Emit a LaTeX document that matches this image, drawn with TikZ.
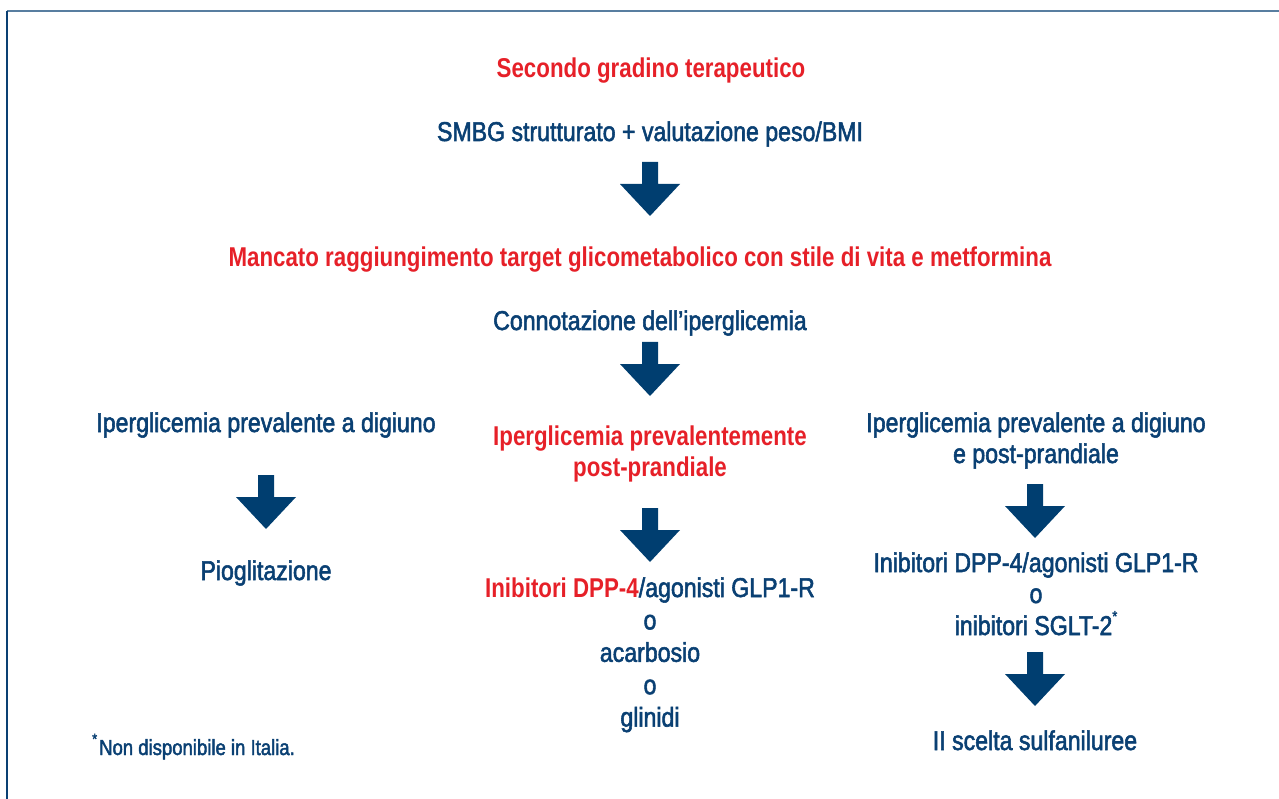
\documentclass[tikz,border=0pt]{standalone}
\usepackage{fontspec}
\newfontfamily\plainfont{Liberation Sans}[FakeStretch=0.85,FakeBold=2]
\newfontfamily\strongfont{Liberation Sans Bold}[FakeStretch=0.82]
\definecolor{navy}{RGB}{10,64,115}
\definecolor{alert}{RGB}{230,32,40}
\definecolor{arrowblue}{RGB}{0,62,112}
\definecolor{framegray}{RGB}{88,126,160}
\newcommand{\starmark}{\raisebox{0.5em}{\fontsize{15}{15}\selectfont *}}

\tikzset{
	txt/.style={anchor=base, inner sep=0pt, text=navy, font=\plainfont\fontsize{27.2}{32}\selectfont},
	hot/.style={txt, text=alert, font=\strongfont\fontsize{27.2}{32}\selectfont},
	note/.style={anchor=base west, inner sep=0pt, text=navy, font=\plainfont\fontsize{21.8}{26}\selectfont},
	downarrow/.pic={
		\fill[arrowblue] (-8,0) -- (8,0) -- (8,22) -- (30,22) -- (0,54) -- (-30,22) -- (-8,22) -- cycle;
	}
}

\begin{document}
\begin{tikzpicture}[x=1pt,y=-1pt]
	\useasboundingbox (0,0) rectangle (1279,799);

	% frame
	\draw[framegray, line width=2pt] (7,11) -- (1279,11);
	\draw[navy, line width=2pt] (7,11) -- (7,799);

	% top
	\node[hot] (title) at (651,78) {Secondo gradino terapeutico};
	\node[txt] (smbg) at (650,141) {SMBG strutturato + valutazione peso/BMI};
	\pic at (650,162) {downarrow};
	\node[hot] (fail) at (640,267) {Mancato raggiungimento target glicometabolico con stile di vita e metformina};
	\node[txt] (conn) at (650,330) {Connotazione dell’iperglicemia};
	\pic at (650,342) {downarrow};

	% left
	\node[txt] (fast) at (266,432) {Iperglicemia prevalente a digiuno};
	\pic at (266,475) {downarrow};
	\node[txt] (pio) at (266,580) {Pioglitazione};

	% middle
	\node[hot] (post1) at (650,445) {Iperglicemia prevalentemente};
	\node[hot] (post2) at (650,476) {post-prandiale};
	\pic at (650,508) {downarrow};
	\node[txt] (mid0) at (650,597) {\textcolor{alert}{\strongfont Inibitori DPP-4}/agonisti GLP1-R};
	\foreach \t [count=\i] in {o, acarbosio, o, glinidi}
	{
		\node[txt] (mid\i) at (650,{597+32.4*\i}) {\t};
	};

	% right
	\node[txt] (both1) at (1036,432) {Iperglicemia prevalente a digiuno};
	\node[txt] (both2) at (1036,463) {e post-prandiale};
	\pic at (1035,484) {downarrow};
	\node[txt] (right1) at (1036,572) {Inibitori DPP-4/agonisti GLP1-R};
	\node[txt] (right2) at (1036,603) {o};
	\node[txt] (right3) at (1036,635) {inibitori SGLT-2\starmark};
	\pic at (1035,652) {downarrow};
	\node[txt] (sulf) at (1035,750) {II scelta sulfaniluree};

	% footnote
	\node[note] (foot) at (92,755) {\starmark\hspace{2pt}Non disponibile in Italia.};
\end{tikzpicture}
\end{document}
